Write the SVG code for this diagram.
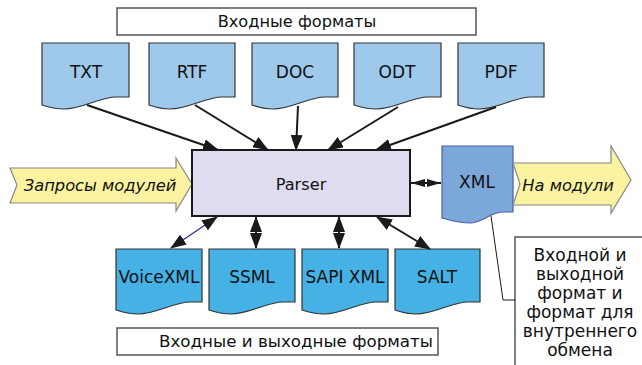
<svg xmlns="http://www.w3.org/2000/svg" width="642" height="365" viewBox="0 0 642 365">
<defs>
<marker id="ah" markerUnits="userSpaceOnUse" markerWidth="16" markerHeight="12" viewBox="0 0 16 12" refX="15" refY="6" orient="auto-start-reverse">
<path d="M0,0 L16,6 L0,12 Z" fill="#1a1a1a"/>
</marker>
<marker id="ahs" markerUnits="userSpaceOnUse" markerWidth="14" markerHeight="10" viewBox="0 0 14 10" refX="14" refY="5" orient="auto-start-reverse">
<path d="M0,1 L14,5 L0,9 Z" fill="#1a1a1a"/>
</marker>
</defs>
<style>
text{font-family:"DejaVu Sans","Verdana",sans-serif;fill:#111;}
.lbl{font-size:16.2px;text-anchor:middle;}
.doc{font-size:17px;text-anchor:middle;}
.box{fill:#fff;stroke:#555;stroke-width:1.5;}
.d1{fill:#9fc9ea;stroke:#333;stroke-width:1.2;}
.d2{fill:#45b1e5;stroke:#333;stroke-width:1.2;}
.d3{fill:#7ba7d9;stroke:#4a5fa8;stroke-width:1.2;}
.yarrow{fill:#fbf3a2;stroke:#888;stroke-width:1.2;}
.it{font-size:16.3px;font-style:italic;text-anchor:middle;}
.con{stroke:#1a1a1a;stroke-width:2;fill:none;marker-end:url(#ah);}
.con2{stroke:#1a1a1a;stroke-width:2;fill:none;marker-end:url(#ah);marker-start:url(#ah);}
.note{font-size:17px;text-anchor:middle;}
</style>

<g id="label-top">
<rect class="box" x="117" y="8" width="359" height="27"/>
<text class="lbl" x="297" y="27">Входные форматы</text>
</g>

<g id="TXT">
<path class="d1" d="M42,43 H129 V97 H116 C100,97 82,109 64,109 C54,109 48,107 42,105 Z"/>
<text class="doc" x="86" y="78">TXT</text>
</g>
<g id="RTF">
<path class="d1" d="M149,43 H235 V97 H222 C206,97 188,109 170,109 C160,109 155,107 149,105 Z"/>
<text class="doc" x="192" y="78">RTF</text>
</g>
<g id="DOC">
<path class="d1" d="M252,43 H338 V97 H325 C309,97 291,109 273,109 C263,109 258,107 252,105 Z"/>
<text class="doc" x="295" y="78">DOC</text>
</g>
<g id="ODT">
<path class="d1" d="M354,43 H441 V97 H428 C412,97 394,109 376,109 C366,109 360,107 354,105 Z"/>
<text class="doc" x="397" y="78">ODT</text>
</g>
<g id="PDF">
<path class="d1" d="M458,43 H544 V97 H531 C515,97 497,109 479,109 C469,109 464,107 458,105 Z"/>
<text class="doc" x="501" y="78">PDF</text>
</g>

<g id="requests">
<path class="yarrow" d="M10,168 H176 V158 L192,184 L176,211 V203 H10 L17,185 Z"/>
<text class="it" x="100" y="191">Запросы модулей</text>
</g>

<g id="Parser">
<rect x="192" y="150" width="218" height="66" fill="#e0dcef" stroke="#1a1a1a" stroke-width="2"/>
<text class="lbl" x="301" y="190">Parser</text>
</g>

<g id="XML">
<path class="d3" d="M442,146 H513 V212 H503 C490,212 482,223 470,223 C458,223 450,220 442,218 Z"/>
<text class="doc" x="477" y="188">XML</text>
</g>

<g id="to-modules">
<path class="yarrow" d="M513,163 H611 V146 L631,180 L611,213 V205 H513 L520,184 Z"/>
<text class="it" x="568" y="191">На модули</text>
</g>

<g id="VoiceXML">
<path class="d2" d="M116,249 H202 V302 H190 C174,302 156,314 138,314 C128,314 122,312 116,310 Z"/>
<text class="doc" x="159" y="283">VoiceXML</text>
</g>
<g id="SSML">
<path class="d2" d="M209,249 H295 V302 H283 C267,302 249,314 231,314 C221,314 215,312 209,310 Z"/>
<text class="doc" x="252" y="283">SSML</text>
</g>
<g id="SAPI-XML">
<path class="d2" d="M302,249 H388 V302 H376 C360,302 342,314 324,314 C314,314 308,312 302,310 Z"/>
<text class="doc" x="345" y="283">SAPI XML</text>
</g>
<g id="SALT">
<path class="d2" d="M395,249 H480 V302 H468 C452,302 434,314 416,314 C406,314 401,312 395,310 Z"/>
<text class="doc" x="437" y="283">SALT</text>
</g>

<g id="label-bottom">
<rect class="box" x="117" y="328" width="321" height="27"/>
<text class="lbl" x="296" y="347" style="font-size:16.7px">Входные и выходные форматы</text>
</g>

<g id="note">
<rect class="box" x="515" y="237" width="140" height="140"/>
<text class="note" x="580" y="261">Входной и</text>
<text class="note" x="580" y="280">выходной</text>
<text class="note" x="580" y="299">формат и</text>
<text class="note" x="580" y="318">формат для</text>
<text class="note" x="580" y="337">внутреннего</text>
<text class="note" x="580" y="356">обмена</text>
</g>

<g id="connectors">
<line class="con" x1="87" y1="105" x2="218" y2="150"/>
<line class="con" x1="195" y1="105" x2="268" y2="150"/>
<line class="con" x1="298" y1="106" x2="296" y2="150"/>
<line class="con" x1="398" y1="107" x2="328" y2="150"/>
<line class="con" x1="496" y1="107" x2="376" y2="150"/>
<line x1="411" y1="183" x2="441" y2="183" stroke="#1a1a1a" stroke-width="2" marker-start="url(#ahs)" marker-end="url(#ahs)"/>
<line x1="217" y1="217" x2="171" y2="248" stroke="#2a2a8a" stroke-width="1.2" marker-start="url(#ah)" marker-end="url(#ah)"/>
<line class="con2" x1="256" y1="217" x2="256" y2="248"/>
<line class="con2" x1="339" y1="217" x2="339" y2="248"/>
<line class="con2" x1="377" y1="217" x2="430" y2="249"/>
<polyline points="491,216 503,300 515,300" fill="none" stroke="#1a1a1a" stroke-width="1"/>
</g>
</svg>
